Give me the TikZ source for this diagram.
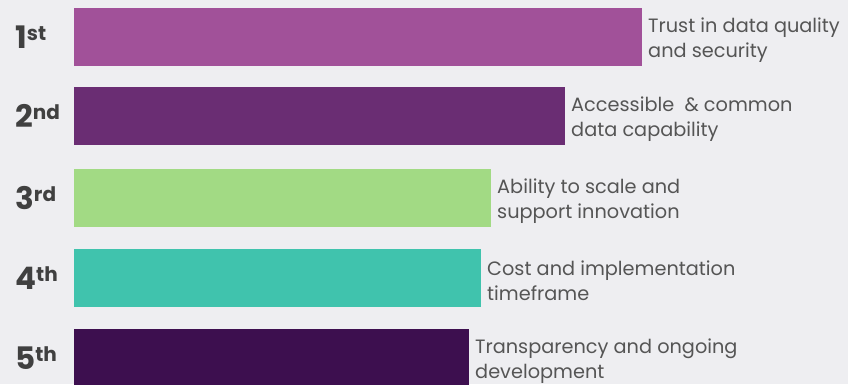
\documentclass[tikz,border=0pt]{standalone}
\usepackage{fontspec}
\setmainfont{Poppins}
\usetikzlibrary{positioning}

\definecolor{bgcol}{HTML}{EEEEF1}
\definecolor{barA}{HTML}{A15199}
\definecolor{barB}{HTML}{6A2D73}
\definecolor{barC}{HTML}{A2DA84}
\definecolor{barD}{HTML}{40C3AD}
\definecolor{barE}{HTML}{3D0F4F}
\definecolor{txtgray}{HTML}{555555}
\definecolor{rankgray}{HTML}{404040}

\newcommand{\rk}[2]{#1\raisebox{8pt}{\fontsize{20}{20}\selectfont #2}}

\begin{document}
\begin{tikzpicture}[x=1pt,y=-1pt]
	\tikzset{
		bar/.style = {anchor=north west, inner sep=0, outer sep=0, minimum height=58pt},
		rank/.style = {font={\fontsize{31}{31}\bfseries\selectfont}, text=rankgray, anchor=west, inner sep=0},
		desc/.style = {font={\fontsize{19.3}{25}\selectfont}, text=txtgray, align=left, anchor=west, inner sep=0},
	}

	\fill[bgcol] (0,0) rectangle (848,384);
	\clip (0,0) rectangle (848,384);

	\foreach \i/\y/\w/\c/\n/\s/\t in {1/8/568/barA/1/st/{Trust in data quality\\and security},
		2/87/491/barB/2/nd/{Accessible \ \& common\\data capability},
		3/169/417/barC/3/rd/{Ability to scale and\\support innovation},
		4/249/407/barD/4/th/{Cost and implementation\\timeframe},
		5/329/395/barE/5/th/{Transparency and ongoing\\development}}
		{
			\node[bar, fill=\c, minimum width=\w pt] (bar\i) at (74,\y) {};
			\node[rank, left=59pt of bar\i.west, anchor=west] (rank\i) {\rk{\n}{\s}};
			\node[desc, right=6pt of bar\i.east, yshift=-3pt] (desc\i) {\t};
		}

\end{tikzpicture}
\end{document}
